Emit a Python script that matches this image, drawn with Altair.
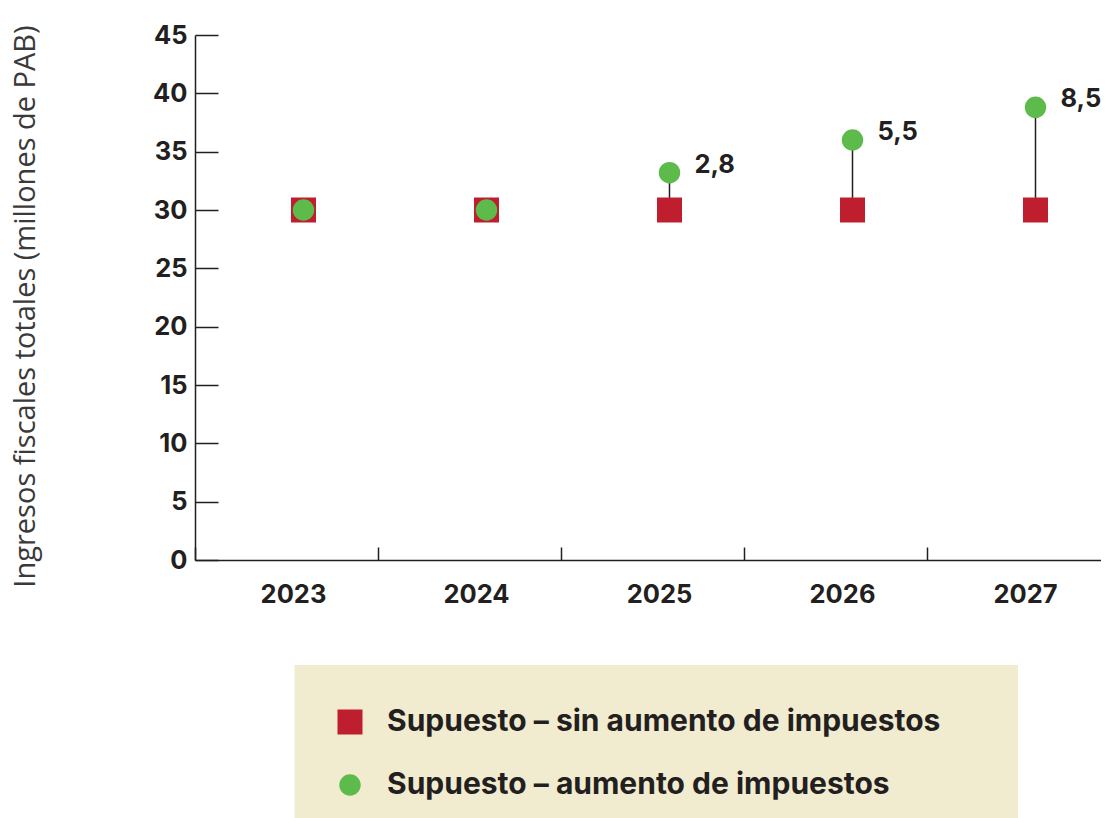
import altair as alt
import pandas as pd

years = ["2023", "2024", "2025", "2026", "2027"]
sin_aumento = [30, 30, 30, 30, 30]
con_aumento = [30, 30, 33.2, 36.0, 38.8]
diff_labels = ["", "", "2,8", "5,5", "8,5"]
series = ["Supuesto – sin aumento de impuestos", "Supuesto – aumento de impuestos"]
colors = ["#BE1E2D", "#5DBB4C"]
shapes = ["square", "circle"]
sizes = [625, 460]
y_ticks = [0, 5, 10, 15, 20, 25, 30, 35, 40, 45]

W, H = 906, 525
XRANGE = 915
BOLD = "Inter"
DARK = "#231F20"

wide = pd.DataFrame({"year": years, "sin": sin_aumento, "con": con_aumento, "label": diff_labels})
long = pd.DataFrame(
    {"year": years + years,
     "value": sin_aumento + con_aumento,
     "serie": [series[0]] * 5 + [series[1]] * 5}
)

xscale = alt.Scale(domain=years, range=[0, XRANGE], paddingInner=0, paddingOuter=0)
yscale = alt.Scale(domain=[0, 45], nice=False)
XOFF = alt.value(108.5)

bg = alt.Chart(alt.Data(values=[{"a": 1}])).mark_rect(color="#F1EBCF").encode(
    x=alt.value(99.5), x2=alt.value(823), y=alt.value(630), y2=alt.value(800)
)

rules = alt.Chart(wide).mark_rule(color=DARK, strokeWidth=1.5).encode(
    x=alt.X("year:N", scale=xscale, axis=None),
    y=alt.Y("sin:Q", scale=yscale, axis=None),
    y2="con:Q",
    xOffset=XOFF,
)

points = alt.Chart(long).mark_point(filled=True, opacity=1, strokeWidth=0).encode(
    x=alt.X("year:N", scale=xscale, title=None,
            axis=alt.Axis(orient="bottom", ticks=False, domain=True, domainColor=DARK,
                          domainWidth=1.5, labelFont=BOLD, labelFontWeight="bold",
                          labelFontSize=25.5, labelColor=DARK, labelPadding=22,
                          labelOffset=7, labelAngle=0, grid=False)),
    y=alt.Y("value:Q", scale=yscale,
            title="Ingresos fiscales totales (millones de PAB)",
            axis=alt.Axis(orient="left", values=y_ticks, ticks=False, domain=True,
                          domainColor=DARK, domainWidth=1.5, labelFont=BOLD,
                          labelFontWeight="bold", labelFontSize=25.5, labelColor=DARK,
                          labelPadding=8, grid=False, titleFont="Open Sans",
                          titleFontWeight="normal", titleFontSize=29,
                          titleColor="#3A3A3A", titleX=-161, titleY=271,
                          titleAngle=-90, titleAlign="center",
                          titleBaseline="alphabetic")),
    color=alt.Color("serie:N", scale=alt.Scale(domain=series, range=colors), title=None),
    shape=alt.Shape("serie:N", scale=alt.Scale(domain=series, range=shapes), title=None),
    size=alt.Size("serie:N", scale=alt.Scale(domain=series, range=sizes), title=None),
    xOffset=XOFF,
)

ticks = alt.Chart(wide).mark_point(opacity=0).encode(
    x=alt.X("year:N", scale=xscale, title=None,
            axis=alt.Axis(orient="top", offset=-H, ticks=True, tickBand="extent",
                          tickSize=13, tickColor=DARK, tickWidth=1.5, labels=False,
                          domain=False, grid=False)),
    y=alt.Y("sin:Q", scale=yscale, title=None,
            axis=alt.Axis(orient="right", offset=-W, values=y_ticks, ticks=True,
                          tickSize=23, tickColor=DARK, tickWidth=1.5, labels=False,
                          domain=False, grid=False)),
)

texts = alt.Chart(wide).mark_text(
    align="left", baseline="middle", dx=25, dy=-8, font=BOLD, fontSize=25.5,
    fontWeight="bold", color=DARK
).encode(
    x=alt.X("year:N", scale=xscale, axis=None),
    y=alt.Y("con:Q", scale=yscale, axis=None),
    text="label:N",
    xOffset=XOFF,
)

chart = (
    alt.layer(bg, rules, ticks, points, texts)
    .resolve_axis(x="independent", y="independent")
    .properties(width=W, height=H, autosize=alt.AutoSizeParams(type="none"),
                padding={"left": 187, "top": 27, "right": 0, "bottom": 258})
    .configure_view(stroke=None)
    .configure_legend(orient="none", legendX=140, legendY=672, padding=0,
                      labelFont=BOLD, labelFontSize=30, labelFontWeight="bold",
                      labelColor=DARK, labelOffset=22, rowPadding=33,
                      symbolStrokeWidth=0, labelLimit=800)
)

chart.save("out.html", embed_options={"renderer": "svg", "actions": False})
